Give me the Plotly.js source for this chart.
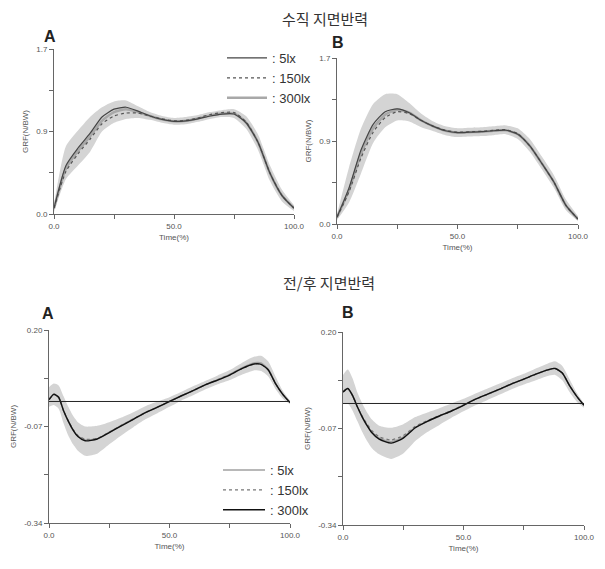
<!DOCTYPE html>
<html><head><meta charset="utf-8">
<script src="https://cdn.plot.ly/plotly-3.0.1.min.js"></script>
<style>html,body{margin:0;padding:0;background:#fff}#chart{width:605px;height:569px}</style>
</head><body><div id="chart"></div>
<script>
// ---------- data ----------
const seriesNames = [": 5lx", ": 150lx", ": 300lx"];
const panelTitles = ["수직 지면반력", "전/후 지면반력"];
const panelLetters = ["A", "B"];

// vertical GRF (time 0..100 step 5)
const timeV = [0,5,10,15,20,25,30,35,40,45,50,55,60,65,70,75,80,85,90,95,100];
const vA_5lx   = [0.06,0.50,0.68,0.83,1.00,1.08,1.10,1.06,1.01,0.975,0.955,0.96,0.98,1.01,1.03,1.03,0.94,0.74,0.42,0.19,0.06];
const vA_150lx = [0.06,0.44,0.62,0.77,0.93,1.01,1.04,1.04,1.01,0.98,0.96,0.965,0.99,1.025,1.045,1.045,0.95,0.74,0.42,0.19,0.06];
const vA_300lx = [0.06,0.47,0.65,0.80,0.96,1.05,1.08,1.05,1.01,0.975,0.955,0.96,0.985,1.015,1.035,1.035,0.945,0.74,0.42,0.19,0.06];
const vA_upper = [0.10,0.70,0.86,1.00,1.10,1.16,1.17,1.11,1.05,1.01,0.99,1.00,1.02,1.05,1.07,1.08,1.01,0.82,0.50,0.25,0.09];
const vA_lower = [0.02,0.36,0.50,0.64,0.85,0.94,0.98,0.99,0.97,0.94,0.92,0.925,0.95,0.98,1.00,0.99,0.88,0.66,0.34,0.13,0.03];

const vB_5lx   = [0.07,0.37,0.76,1.02,1.15,1.18,1.14,1.06,1.00,0.955,0.935,0.94,0.945,0.955,0.96,0.92,0.80,0.62,0.43,0.19,0.05];
const vB_150lx = [0.07,0.33,0.68,0.94,1.09,1.15,1.13,1.06,1.00,0.96,0.94,0.945,0.95,0.96,0.965,0.925,0.80,0.62,0.43,0.19,0.05];
const vB_300lx = [0.07,0.35,0.72,0.98,1.12,1.17,1.14,1.06,1.00,0.955,0.935,0.94,0.945,0.955,0.96,0.92,0.80,0.62,0.43,0.19,0.05];
const vB_upper = [0.10,0.58,0.98,1.23,1.33,1.33,1.24,1.13,1.05,1.00,0.98,0.985,0.99,1.00,1.01,0.98,0.87,0.69,0.50,0.25,0.08];
const vB_lower = [0.04,0.22,0.52,0.83,0.99,1.06,1.05,0.99,0.95,0.91,0.89,0.895,0.90,0.91,0.92,0.87,0.74,0.56,0.37,0.14,0.03];

// anterior/posterior GRF
const timeAP = [0,2,4,6,8,10,12,15,20,25,30,35,40,45,50,55,60,65,70,75,80,85,88,91,94,97,100];
const apA_5lx   = [0.005,0.02,0.012,-0.025,-0.055,-0.08,-0.097,-0.108,-0.104,-0.086,-0.067,-0.049,-0.031,-0.016,0.0,0.016,0.031,0.047,0.061,0.076,0.094,0.108,0.108,0.09,0.05,0.02,-0.003];
const apA_150lx = [0.005,0.02,0.012,-0.025,-0.054,-0.078,-0.095,-0.106,-0.103,-0.086,-0.067,-0.049,-0.031,-0.016,0.0,0.016,0.031,0.047,0.061,0.075,0.092,0.104,0.104,0.088,0.05,0.02,-0.003];
const apA_300lx = [0.005,0.02,0.012,-0.025,-0.055,-0.08,-0.098,-0.11,-0.105,-0.087,-0.068,-0.05,-0.031,-0.016,0.0,0.016,0.031,0.047,0.06,0.074,0.092,0.105,0.104,0.088,0.05,0.02,-0.003];
const apA_upper = [0.04,0.05,0.045,0.015,-0.015,-0.04,-0.058,-0.07,-0.068,-0.058,-0.045,-0.03,-0.013,0.0,0.012,0.027,0.043,0.058,0.073,0.088,0.108,0.125,0.128,0.112,0.07,0.03,0.002];
const apA_lower = [-0.015,-0.01,-0.02,-0.06,-0.095,-0.12,-0.138,-0.152,-0.146,-0.12,-0.095,-0.072,-0.05,-0.033,-0.015,0.003,0.018,0.034,0.048,0.06,0.075,0.087,0.085,0.07,0.035,0.008,-0.008];

const apB_5lx   = [0.032,0.042,0.022,-0.01,-0.038,-0.062,-0.08,-0.097,-0.107,-0.094,-0.067,-0.05,-0.035,-0.021,-0.005,0.012,0.026,0.04,0.055,0.068,0.082,0.094,0.098,0.085,0.05,0.02,-0.005];
const apB_150lx = [0.032,0.042,0.022,-0.01,-0.036,-0.058,-0.076,-0.093,-0.102,-0.09,-0.064,-0.048,-0.034,-0.02,-0.004,0.012,0.026,0.04,0.055,0.068,0.082,0.094,0.098,0.085,0.05,0.02,-0.005];
const apB_300lx = [0.032,0.042,0.022,-0.01,-0.038,-0.062,-0.082,-0.1,-0.111,-0.097,-0.068,-0.05,-0.035,-0.021,-0.005,0.012,0.026,0.04,0.055,0.068,0.082,0.094,0.098,0.085,0.05,0.02,-0.005];
const apB_upper = [0.08,0.095,0.07,0.03,0.0,-0.025,-0.045,-0.062,-0.068,-0.058,-0.038,-0.025,-0.013,0.0,0.013,0.028,0.042,0.056,0.07,0.083,0.098,0.112,0.118,0.105,0.068,0.03,0.0];
const apB_lower = [0.0,0.0,-0.02,-0.05,-0.08,-0.105,-0.125,-0.142,-0.155,-0.14,-0.105,-0.08,-0.06,-0.04,-0.022,-0.005,0.01,0.025,0.04,0.053,0.065,0.077,0.08,0.065,0.032,0.005,-0.012];

// axis ticks
const xTickVals = [0,25,50,75,100];
const xTickText = ["0.0","","50.0","","100.0"];
const vTickVals = [0,0.425,0.85,1.275,1.7];
const vTickText = ["0.0","","0.9","","1.7"];
const apTickVals = [-0.34,-0.205,-0.07,0.065,0.20];
const apTickText = ["-0.34","","-0.07","","0.20"];
const apZero = 0;

// ---------- styles ----------
const bandColor = "#d4d4d4";
const topStyles = [
  {color:"#444", width:1.2, dash:"solid"},
  {color:"#555", width:1.2, dash:"dot"},
  {color:"#a8a8a8", width:2.5, dash:"solid"}
];
const botStyles = [
  {color:"#a0a0a0", width:1.5, dash:"solid"},
  {color:"#777", width:1.3, dash:"dot"},
  {color:"#111", width:1.4, dash:"solid"}
];

const traces = [];
function addPanel(xa, ya, t, lower, upper, series, styles, legendName, showLeg, drawOrder) {
  traces.push({x:t, y:lower, xaxis:xa, yaxis:ya, mode:"lines", line:{width:0, shape:"spline", smoothing:0.6}, showlegend:false, hoverinfo:"skip"});
  traces.push({x:t, y:upper, xaxis:xa, yaxis:ya, mode:"lines", fill:"tonexty", fillcolor:bandColor, line:{width:0, shape:"spline", smoothing:0.6}, showlegend:false, hoverinfo:"skip"});
  drawOrder.forEach(i => {
    traces.push({x:t, y:series[i], xaxis:xa, yaxis:ya, mode:"lines", name:seriesNames[i],
      line:{color:styles[i].color, width:styles[i].width, dash:styles[i].dash, shape:"spline", smoothing:0.6},
      showlegend:showLeg, legend:legendName, legendrank:i+1});
  });
}
addPanel("x","y", timeV, vA_lower, vA_upper, [vA_5lx, vA_150lx, vA_300lx], topStyles, "legend", true, [2,1,0]);
addPanel("x2","y2", timeV, vB_lower, vB_upper, [vB_5lx, vB_150lx, vB_300lx], topStyles, "legend", false, [2,1,0]);
addPanel("x3","y3", timeAP, apA_lower, apA_upper, [apA_5lx, apA_150lx, apA_300lx], botStyles, "legend2", true, [0,1,2]);
addPanel("x4","y4", timeAP, apB_lower, apB_upper, [apB_5lx, apB_150lx, apB_300lx], botStyles, "legend2", false, [0,1,2]);

const W = 605, H = 569;
const px = v => v / W;
const py = v => 1 - v / H;
const tickFont = {family:"Liberation Sans, Arial, sans-serif", size:8, color:"#555"};
const titleFont = {family:"Liberation Sans, Arial, sans-serif", size:8, color:"#555"};

function xAxis(dom, anchor) {
  return {domain:dom, anchor:anchor, range:[0,100], tickvals:xTickVals, ticktext:xTickText,
    showline:true, linecolor:"#666", linewidth:1, ticks:"outside", ticklen:4, tickcolor:"#666",
    showgrid:false, zeroline:false, tickfont:tickFont, fixedrange:true,
    title:{text:"Time(%)", font:titleFont, standoff:4}};
}
function yAxis(dom, anchor, range, tv, tt) {
  return {domain:dom, anchor:anchor, range:range, tickvals:tv, ticktext:tt,
    showline:true, linecolor:"#666", linewidth:1, ticks:"outside", ticklen:4, tickcolor:"#666",
    showgrid:false, zeroline:false, tickfont:tickFont, fixedrange:true,
    title:{text:"GRF(N/BW)", font:titleFont, standoff:6}};
}

const legendFont = {family:"Liberation Sans Narrow, Arial Narrow, Liberation Sans, sans-serif", size:13, color:"#333"};

const layout = {
  width:W, height:H,
  margin:{l:0,r:0,t:0,b:0},
  paper_bgcolor:"#fff", plot_bgcolor:"rgba(0,0,0,0)",
  showlegend:true,
  xaxis: xAxis([px(54), px(294)], "y"),
  yaxis: yAxis([py(214), py(49)], "x", [0,1.7], vTickVals, vTickText),
  xaxis2: xAxis([px(337), px(578)], "y2"),
  yaxis2: yAxis([py(224), py(58)], "x2", [0,1.7], vTickVals, vTickText),
  xaxis3: xAxis([px(49), px(290)], "y3"),
  yaxis3: yAxis([py(523), py(330)], "x3", [-0.34,0.20], apTickVals, apTickText),
  xaxis4: xAxis([px(343), px(584)], "y4"),
  yaxis4: yAxis([py(525), py(332)], "x4", [-0.34,0.20], apTickVals, apTickText),
  legend:{x:px(222), y:py(43), xanchor:"left", yanchor:"top", bgcolor:"rgba(0,0,0,0)", borderwidth:0,
    font:legendFont, itemwidth:40, tracegroupgap:0, traceorder:"normal"},
  legend2:{x:px(218), y:py(455), xanchor:"left", yanchor:"top", bgcolor:"rgba(0,0,0,0)", borderwidth:0,
    font:legendFont, itemwidth:42, tracegroupgap:0, traceorder:"normal"},
  shapes:[
    {type:"line", xref:"x3", yref:"y3", x0:0, x1:100, y0:apZero, y1:apZero, line:{color:"#222", width:1}},
    {type:"line", xref:"x4", yref:"y4", x0:0, x1:100, y0:apZero, y1:apZero, line:{color:"#222", width:1}}
  ],
  annotations:[
    {text:panelTitles[0], xref:"paper", yref:"paper", x:px(325), y:py(19), showarrow:false, xanchor:"center", yanchor:"middle",
      font:{family:"Noto Sans CJK KR, sans-serif", size:15, color:"#333"}},
    {text:panelTitles[1], xref:"paper", yref:"paper", x:px(329), y:py(282), showarrow:false, xanchor:"center", yanchor:"middle",
      font:{family:"Noto Sans CJK KR, sans-serif", size:15, color:"#333"}},
    {text:"<b>"+panelLetters[0]+"</b>", xref:"paper", yref:"paper", x:px(50), y:py(37), showarrow:false, xanchor:"center", yanchor:"middle",
      font:{family:"Liberation Sans, Arial, sans-serif", size:16, color:"#222"}},
    {text:"<b>"+panelLetters[1]+"</b>", xref:"paper", yref:"paper", x:px(338), y:py(42), showarrow:false, xanchor:"center", yanchor:"middle",
      font:{family:"Liberation Sans, Arial, sans-serif", size:16, color:"#222"}},
    {text:"<b>"+panelLetters[0]+"</b>", xref:"paper", yref:"paper", x:px(48), y:py(313), showarrow:false, xanchor:"center", yanchor:"middle",
      font:{family:"Liberation Sans, Arial, sans-serif", size:16, color:"#222"}},
    {text:"<b>"+panelLetters[1]+"</b>", xref:"paper", yref:"paper", x:px(348), y:py(312), showarrow:false, xanchor:"center", yanchor:"middle",
      font:{family:"Liberation Sans, Arial, sans-serif", size:16, color:"#222"}}
  ]
};

Plotly.newPlot("chart", traces, layout, {staticPlot:true, displayModeBar:false});
</script>
</body></html>
